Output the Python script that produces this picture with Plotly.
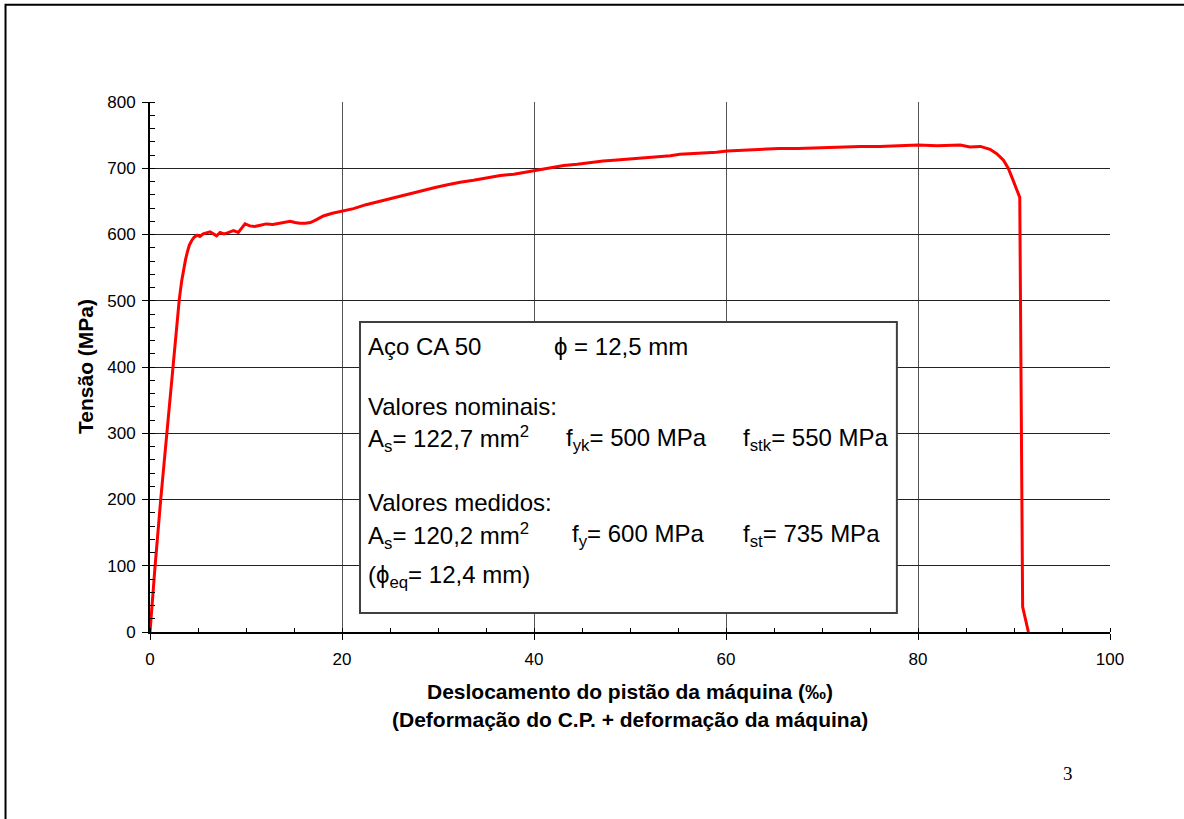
import plotly.graph_objects as go

# Ensaio de tração - barra CA 50, phi 12,5 mm
deslocamento = [
    0, 0.15, 0.52, 1.11, 1.74, 2.36, 2.7, 3.05, 3.3, 3.5,
    3.7, 3.9, 4.1, 4.35, 4.6, 4.9, 5.2, 5.55, 5.9, 6.25,
    6.6, 6.94, 7.3, 7.7, 8.0, 8.4, 8.7, 9.2, 9.4, 9.9,
    10.4, 10.9, 11.5, 12.1, 12.8, 13.5, 13.9, 14.6, 15.1, 15.6,
    16.2, 16.7, 17.3, 18.05, 19.0, 20.05, 21.2, 22.5, 23.6, 24.65,
    25.8, 27.1, 28.5, 29.7, 31.0, 32.3, 33.7, 35.0, 36.5, 37.9,
    39.0, 40.1, 41.5, 43.1, 44.5, 46.0, 47.2, 48.3, 50.0, 51.5,
    53.0, 54.2, 55.2, 56.5, 58.0, 59.0, 60.1, 61.5, 63.5, 65.5,
    67.5, 69.5, 71.9, 74.0, 76.0, 78.0, 80.0, 82.0, 84.4, 85.4,
    86.5, 87.5, 88.2, 88.9, 89.4, 89.9, 90.4, 90.6, 90.9, 91.4,
    91.5,
]
tensao = [
    0, 30, 98, 199, 300, 401, 455, 502, 530, 548,
    562, 574, 584, 591, 596, 599, 597, 601, 603, 604,
    601, 598, 603, 601, 602, 605, 606, 603, 607, 616,
    613, 612, 614, 616, 615, 617, 619, 620, 618, 617,
    617, 618, 622, 628, 632, 635, 639, 645, 649, 653,
    657, 662, 667, 671, 675, 679, 682, 685, 689, 691,
    694, 697, 700, 704, 706, 709, 711, 712, 714, 715,
    717, 719, 721, 722, 724, 724, 726, 727, 729, 730,
    730, 731, 732.5, 733, 733, 734, 735, 734, 735, 732,
    733, 728.6, 722, 712, 700, 682, 665, 656, 38, 10,
    0,
]

x_ticks = [0, 20, 40, 60, 80, 100]
y_ticks = [0, 100, 200, 300, 400, 500, 600, 700, 800]

titulo_x = ("Deslocamento do pistão da máquina (‰)",
            "(Deformação do C.P. + deformação da máquina)")
titulo_y = "Tensão (MPa)"

# Linhas do quadro de propriedades: (texto, x, y) em coordenadas dos dados
quadro_textos = [
    ("Aço CA 50", 22.5, 431),
    ("ϕ = 12,5 mm", 41.9, 431),
    ("Valores nominais:", 22.5, 341),
    ("A<sub>s</sub>= 122,7 mm<sup>2</sup>", 22.5, 291),
    ("f<sub>yk</sub>= 500 MPa", 43.1, 291),
    ("f<sub>stk</sub>= 550 MPa", 61.6, 291),
    ("Valores medidos:", 22.5, 195),
    ("A<sub>s</sub>= 120,2 mm<sup>2</sup>", 22.5, 145),
    ("f<sub>y</sub>= 600 MPa", 43.75, 145),
    ("f<sub>st</sub>= 735 MPa", 61.6, 145),
    ("(ϕ<sub>eq</sub>= 12,4 mm)", 22.5, 84),
]
quadro_limites = (21.875, 77.8, 28.7, 468)

pagina = "3"

FONT = "Liberation Sans, Arial, sans-serif"

fig = go.Figure()
fig.add_trace(go.Scatter(
    x=deslocamento, y=tensao, mode="lines",
    line=dict(color="#ff0000", width=3), showlegend=False,
    hoverinfo="skip",
))

# Moldura externa da página
fig.add_shape(type="rect", xref="paper", yref="paper",
              x0=-0.1505, x1=1.2, y0=1.1834, y1=-0.4,
              line=dict(color="black", width=2), layer="below")

# Quadro de propriedades
x0, x1, y0, y1 = quadro_limites
fig.add_shape(type="rect", xref="x", yref="y", x0=x0, x1=x1, y0=y0, y1=y1,
              line=dict(color="#404040", width=2), fillcolor="white",
              layer="above")

for txt, xx, yy in quadro_textos:
    fig.add_annotation(x=xx, y=yy, xref="x", yref="y", text=txt,
                       showarrow=False, xanchor="left", yanchor="middle",
                       font=dict(family=FONT, size=24, color="black"))

# Títulos dos eixos
fig.add_annotation(x=0.5, y=(632 - 691) / 530, xref="paper", yref="paper",
                   text="<b>" + titulo_x[0] + "</b>", showarrow=False,
                   xanchor="center", yanchor="middle",
                   font=dict(family=FONT, size=21, color="black"))
fig.add_annotation(x=0.5, y=(632 - 719) / 530, xref="paper", yref="paper",
                   text="<b>" + titulo_x[1] + "</b>", showarrow=False,
                   xanchor="center", yanchor="middle",
                   font=dict(family=FONT, size=21, color="black"))
fig.add_annotation(x=(85 - 150) / 960, y=0.5, xref="paper", yref="paper",
                   text="<b>" + titulo_y + "</b>", showarrow=False,
                   textangle=-90, xanchor="center", yanchor="middle",
                   font=dict(family=FONT, size=21, color="black"))

# Número da página
fig.add_annotation(x=(1068 - 150) / 960, y=(632 - 773) / 530,
                   xref="paper", yref="paper", text=pagina, showarrow=False,
                   xanchor="center", yanchor="middle",
                   font=dict(family="Liberation Serif, Times New Roman, serif",
                             size=19, color="black"))

fig.update_xaxes(
    range=[0, 100], tickvals=x_ticks, ticktext=[str(v) for v in x_ticks],
    showgrid=True, gridcolor="#555555", gridwidth=1,
    showline=True, linecolor="black", linewidth=2,
    ticks="outside", ticklen=6, tickcolor="black", tickwidth=1,
    ticklabelstandoff=5,
    minor=dict(ticks="inside", dtick=5, ticklen=4, tickcolor="black",
               showgrid=False),
    tickfont=dict(family=FONT, size=17, color="black"),
    zeroline=False, fixedrange=True,
)
fig.update_yaxes(
    range=[0, 800], tickvals=y_ticks, ticktext=[str(v) for v in y_ticks],
    showgrid=True, gridcolor="#222222", gridwidth=1,
    showline=True, linecolor="black", linewidth=2,
    ticks="outside", ticklen=6, tickcolor="black", tickwidth=1,
    ticklabelstandoff=3,
    minor=dict(ticks="inside", dtick=20, ticklen=5, tickcolor="black",
               showgrid=False),
    tickfont=dict(family=FONT, size=17, color="black"),
    zeroline=False, fixedrange=True,
)

fig.update_layout(
    width=1184, height=819,
    margin=dict(l=150, r=74, t=102, b=187),
    paper_bgcolor="white", plot_bgcolor="white",
    showlegend=False,
)

fig.write_html("out.html", config={"displayModeBar": False})
